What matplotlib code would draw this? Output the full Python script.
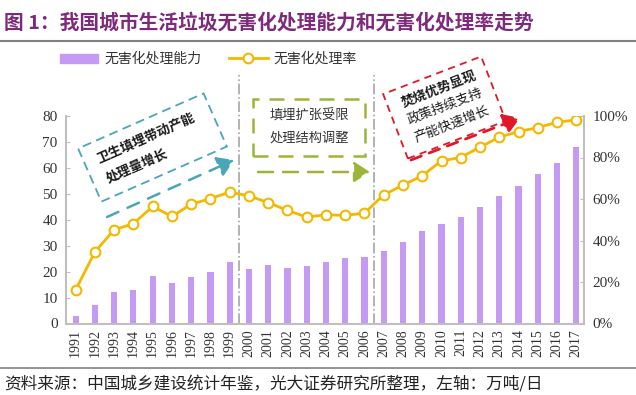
import numpy as np
import matplotlib
matplotlib.use('Agg')
import matplotlib.pyplot as plt
from matplotlib.lines import Line2D
from matplotlib.patches import Patch, Rectangle, FancyArrowPatch
from matplotlib.transforms import IdentityTransform

plt.rcParams['font.family'] = ['Noto Sans CJK SC', 'DejaVu Sans']

# data
years = [str(y) for y in range(1991, 2018)]
capacity = [2.8, 7.0, 12.2, 12.8, 18.2, 15.5, 17.9, 19.9, 23.7, 20.9, 22.4, 21.5, 22.0,
            23.7, 25.4, 25.6, 27.8, 31.4, 35.6, 38.5, 41.0, 44.8, 49.1, 53.2, 57.5, 61.9, 68.2]
rate = [16.2, 34.5, 45.2, 48.1, 56.4, 51.6, 57.5, 60.2, 63.3, 61.5, 58.3, 54.5, 51.3,
        52.4, 52.1, 53.2, 62.0, 66.7, 71.2, 78.4, 80.0, 85.0, 89.8, 92.5, 94.4, 97.0, 98.1]
left_ticks = [0, 10, 20, 30, 40, 50, 60, 70, 80]
right_ticks = [0, 20, 40, 60, 80, 100]
phase_breaks = [8.5, 15.5]

bar_color = '#C59AF5'
line_color = '#F4B800'
grey = '#BFBFBF'
teal = '#4AA6B6'
green = '#9AB53A'
red = '#E0182A'

W, H = 636, 395
fig = plt.figure(figsize=(W / 100, H / 100), dpi=100)

ax = fig.add_axes([66 / W, 1 - 323.5 / H, (584 - 66) / W, (323.5 - 116) / H])
x = np.arange(len(years))
ax.bar(x, capacity, width=0.32, color=bar_color, zorder=2)
ax.set_xlim(-0.5, len(years) - 0.6)
ax.set_ylim(0, 80)
ax.set_yticks(left_ticks)
ax.set_xticks(x)
ax.set_xticklabels(years, rotation=90, family='Liberation Serif', fontsize=10, color='#333333')
for lab in ax.get_yticklabels():
    lab.set_family('Liberation Serif')
ax.tick_params(axis='y', direction='in', length=3, color=grey, labelsize=11, labelcolor='#333333', pad=6)
ax.tick_params(axis='x', length=0, pad=4)
for s in ['top', 'right']:
    ax.spines[s].set_visible(False)
for s in ['left', 'bottom']:
    ax.spines[s].set_color(grey)
    ax.spines[s].set_linewidth(1.5)

ax2 = ax.twinx()
ax2.plot(x, np.array(rate) / 100, color=line_color, lw=2, marker='o', ms=7,
         mfc='white', mec=line_color, mew=1.5, zorder=3)
ax2.set_ylim(0, 1)
ax2.set_yticks([t / 100 for t in right_ticks])
ax2.set_yticklabels(['%d%%' % t for t in right_ticks], family='Liberation Serif')
ax2.tick_params(axis='y', direction='in', length=3, color=grey, labelsize=11, labelcolor='#333333', pad=6)
for s in ['top', 'left', 'bottom']:
    ax2.spines[s].set_visible(False)
ax2.spines['right'].set_color(grey)
ax2.spines['right'].set_linewidth(1.5)

top = (323.5 - 75) / (323.5 - 116)
for b in phase_breaks:
    ax.axvline(b, ymin=0, ymax=top, color='#A6A6A6', lw=1.2, ls='-.', clip_on=False, zorder=1)

# title, rules, source
fig.text(4 / W, 1 - 23 / H, '图 1：我国城市生活垃圾无害化处理能力和无害化处理率走势',
         fontsize=14.2, fontweight='bold', color='#7E2A7C', va='center', ha='left')
fig.add_artist(Line2D([0, 1], [1 - 40.7 / H] * 2, color='#808080', lw=1.5))
fig.add_artist(Line2D([0, 1], [1 - 367.5 / H] * 2, color='#808080', lw=1.2))
fig.text(4 / W, 1 - 384 / H, '资料来源：中国城乡建设统计年鉴，光大证券研究所整理，左轴：万吨/日',
         fontsize=12, color='#222222', va='center', ha='left')

handles = [Patch(color=bar_color),
           Line2D([], [], color=line_color, lw=2, marker='o', ms=7, mfc='white', mec=line_color, mew=1.5)]
fig.legend(handles, ['无害化处理能力', '无害化处理率'], loc='center left', bbox_to_anchor=(47 / W, 1 - 59 / H),
           ncol=2, frameon=False, fontsize=10, handlelength=2.8, handleheight=0.6,
           columnspacing=2.0, handletextpad=0.4, labelcolor='#333333')

# annotations, placed in pixel coordinates of the output picture
T = IdentityTransform()


def box(cx, cy, w, h, ang, color, dash, lw):
    fig.add_artist(Rectangle((cx - w / 2, H - cy - h / 2), w, h, angle=ang, rotation_point='center',
                             transform=T, fill=False, ec=color, lw=lw, ls=(0, dash)))


def arrow(x0, y0, x1, y1, color, dash, lw):
    fig.add_artist(FancyArrowPatch((x0, H - y0), (x1, H - y1), transform=T,
                                   arrowstyle='-|>,head_length=0.7,head_width=0.45', mutation_scale=14,
                                   color=color, lw=lw, ls=(0, dash), shrinkA=0, shrinkB=0))


def label(px, py, s, ang, ha='center', **kw):
    kw.setdefault('color', '#1A1A1A')
    fig.text(px, H - py, s, transform=T, rotation=ang, rotation_mode='anchor',
             ha=ha, va='center', **kw)


# phase 1: landfill
box(152.5, 147.5, 137, 58, 23.7, teal, (5, 3), 1.3)
label(97, 158.5, '卫生填埋带动产能', 23.7, ha='left', fontsize=9.5, fontweight='bold')
label(107, 179, '处理量增长', 23.7, ha='left', fontsize=9.5, fontweight='bold')
arrow(107, 217, 234, 160, teal, (5, 4), 1.8)

# phase 2: adjustment
box(309, 127.5, 112, 57, 0, green, (6, 4), 1.8)
label(309, 116, '填埋扩张受限', 0, fontsize=9.5, color='#333333')
label(309, 138, '处理结构调整', 0, fontsize=9.5, color='#333333')
arrow(258, 172, 370, 172, green, (6, 4), 1.8)

# phase 3: incineration
box(444.5, 107.5, 105, 69, 21, red, (4, 3), 1.3)
label(438.5, 88.5, '焚烧优势显现', 21, fontsize=9.5, fontweight='bold')
label(445, 106, '政策持续支持', 21, fontsize=9.5)
label(451.5, 124, '产能快速增长', 21, fontsize=9.5)
arrow(411, 160, 520, 118, red, (4, 3), 2.0)

fig.savefig('out.png', dpi=100)
